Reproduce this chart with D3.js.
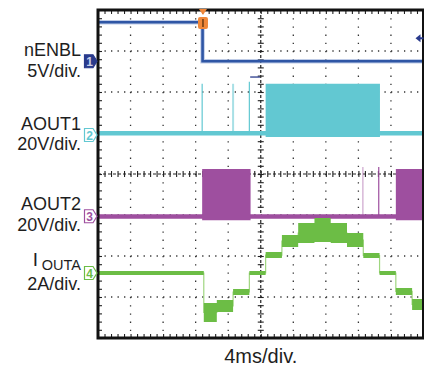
<!DOCTYPE html>
<html>
<head>
<meta charset="utf-8">
<script src="https://cdn.jsdelivr.net/npm/d3@7"></script>
<style>
  body { margin: 0; background: #fff; }
  svg { display: block; font-family: "Liberation Sans", Arial, sans-serif; }
</style>
</head>
<body>
<script>
// Scope screen
const w = 424;
const h = 369;
const pLeft = 98, pRight = 423.5, pTop = 10, pBottom = 338;
const xDivs = 10, yDivs = 8, minorPerDiv = 5;
const msPerDiv = 4;

// trigger
const triggerMs = 12.9;
const triggerLevelV = 2.8;

// CH1 nENBL (V)
const enblT = [0, 12.85, 40];
const enblV = [4.75, 0, 0];

// CH2 AOUT1 (V) - envelope of the PWM
const aout1T = [0, 20.6, 34.65, 40];
const aout1Hi = [1, 24, 1, 1];
const aout1Lo = [-1.2, -2, -1.2, -1.2];
const aout1SpikeT = [12.8, 16.6, 18.6];
const aout1SpikeV = [24, 24, 25];

// CH3 AOUT2 (V)
const aout2T = [0, 12.8, 18.75, 36.6, 40];
const aout2Hi = [1, 23, 1, 23, 23];
const aout2Lo = [-1.2, -2, -1.2, -2, -2];
const aout2SpikeT = [32.55, 34.5];
const aout2SpikeV = [24, 24];

// CH4 IOUTA (A) - step levels, min/max of the ripple
const ioutT  = [0, 13.0, 14.6, 16.6, 18.6, 20.6, 22.6, 24.6, 26.6, 28.6, 30.6, 32.6, 34.6, 36.6, 38.6, 40];
const ioutHi = [0.1, -1.46, -1.32, -0.78, 0.1, 1.02, 1.85, 2.44, 2.68, 2.44, 1.95, 0.98, 0.1, -0.73, -1.27, -1.27];
const ioutLo = [-0.1, -2.39, -1.9, -1.07, -0.1, 0.73, 1.27, 1.46, 1.51, 1.46, 1.27, 0.73, -0.1, -1.07, -1.8, -1.8];

// labels
const chNames = ["nENBL", "AOUT1", "AOUT2", "I"];
const chScales = ["5V/div.", "20V/div.", "20V/div.", "2A/div."];
const timeLabel = "4ms/div.";

const colBlue = "#2f56a5", colNavy = "#2a3b8c", colCyan = "#62c8d2",
      colPurple = "#9e4f9f", colGreen = "#6cbd45", colOrange = "#f0883a";

const svg = d3.select("body").append("svg").attr("width", w).attr("height", h);

// scales
const x = d3.scaleLinear().domain([0, xDivs * msPerDiv]).range([pLeft, pRight]);
const yDiv = d3.scaleLinear().domain([0, yDivs]).range([pBottom, pTop]);
function chScale(groundDiv, perDiv) {
  return d3.scaleLinear()
    .domain([-groundDiv * perDiv, (yDivs - groundDiv) * perDiv])
    .range([pBottom, pTop]);
}
const y1 = chScale(6.75, 5);
const y2 = chScale(5.0, 20);
const y3 = chScale(2.97, 20);
const y4 = chScale(1.585, 2);

// grid
const majorX = d3.range(1, xDivs).map(d => d * msPerDiv);
const majorY = d3.range(1, yDivs);
const minorX = d3.range(0, xDivs * minorPerDiv + 1).map(d => d * msPerDiv / minorPerDiv);
const minorY = d3.range(0, yDivs * minorPerDiv + 1).map(d => d / minorPerDiv);
const dx = x(msPerDiv / minorPerDiv) - x(0);
const dy = yDiv(0) - yDiv(1 / minorPerDiv);

const grid = svg.append("g");
grid.selectAll("line.v").data(majorX.filter(d => d !== 20)).enter().append("line")
  .attr("x1", d => x(d)).attr("x2", d => x(d))
  .attr("y1", pTop).attr("y2", pBottom)
  .attr("stroke", "#333").attr("stroke-width", 1.3)
  .attr("stroke-dasharray", `1.3,${dy - 1.3}`);
grid.selectAll("line.h").data(majorY.filter(d => d !== 4)).enter().append("line")
  .attr("x1", pLeft).attr("x2", pRight)
  .attr("y1", d => yDiv(d)).attr("y2", d => yDiv(d))
  .attr("stroke", "#333").attr("stroke-width", 1.3)
  .attr("stroke-dasharray", `1.3,${dx - 1.3}`);

// center lines
grid.append("line").attr("x1", x(20)).attr("x2", x(20)).attr("y1", pTop).attr("y2", pBottom)
  .attr("stroke", "#222").attr("stroke-width", 1.2).attr("stroke-dasharray", "3,2");
grid.append("line").attr("x1", pLeft).attr("x2", pRight).attr("y1", yDiv(4)).attr("y2", yDiv(4))
  .attr("stroke", "#222").attr("stroke-width", 1.2).attr("stroke-dasharray", "3,2");

function tickAxis(axis, transform) {
  const g = grid.append("g").attr("transform", transform).call(axis);
  g.select(".domain").remove();
  g.selectAll("line").attr("stroke", "#222").attr("stroke-width", 1.1);
  return g;
}
tickAxis(d3.axisRight(yDiv).tickValues(minorY).tickSize(6).tickFormat(""), `translate(${x(20) - 3},0)`);
tickAxis(d3.axisBottom(x).tickValues(minorX).tickSize(6).tickFormat(""), `translate(0,${yDiv(4) - 3})`);
tickAxis(d3.axisRight(yDiv).tickValues(minorY).tickSize(4).tickFormat(""), `translate(${pLeft},0)`);
tickAxis(d3.axisBottom(x).tickValues(minorX).tickSize(4).tickFormat(""), `translate(0,${pTop})`);
tickAxis(d3.axisTop(x).tickValues(minorX).tickSize(4).tickFormat(""), `translate(0,${pBottom})`);

// clip
svg.append("clipPath").attr("id", "plot").append("rect")
  .attr("x", pLeft).attr("y", pTop).attr("width", pRight - pLeft).attr("height", pBottom - pTop);
const traces = svg.append("g").attr("clip-path", "url(#plot)");

function band(t, hi, lo, ys) {
  return d3.area().curve(d3.curveStepAfter)
    .x((d, i) => x(t[i])).y0((d, i) => ys(lo[i])).y1((d, i) => ys(hi[i]))(t);
}

// CH2
traces.append("path").attr("d", band(aout1T, aout1Hi, aout1Lo, y2)).attr("fill", colCyan);
traces.selectAll("line.s2").data(aout1SpikeT).enter().append("line")
  .attr("x1", d => x(d)).attr("x2", d => x(d))
  .attr("y1", y2(0)).attr("y2", (d, i) => y2(aout1SpikeV[i]))
  .attr("stroke", colCyan).attr("stroke-width", (d, i) => i === 1 ? 2 : 1.2)
  .attr("opacity", (d, i) => i === 1 ? 0.55 : 1);

// CH3
traces.append("path").attr("d", band(aout2T, aout2Hi, aout2Lo, y3)).attr("fill", colPurple);
traces.selectAll("line.s3").data(aout2SpikeT).enter().append("line")
  .attr("x1", d => x(d)).attr("x2", d => x(d))
  .attr("y1", y3(0)).attr("y2", (d, i) => y3(aout2SpikeV[i]))
  .attr("stroke", colPurple).attr("stroke-width", 1.2)
  .attr("opacity", (d, i) => i === 0 ? 0.5 : 1);

// CH4
const ioutMid = ioutT.map((d, i) => (ioutHi[i] + ioutLo[i]) / 2);
traces.append("path")
  .attr("d", d3.line().curve(d3.curveStepAfter).x((d, i) => x(ioutT[i])).y((d, i) => y4(ioutMid[i]))(ioutT))
  .attr("fill", "none").attr("stroke", "#9fd67f").attr("stroke-width", 1.2);
traces.append("path").attr("d", band(ioutT, ioutHi, ioutLo, y4)).attr("fill", colGreen);

// CH1
const enblLine = d3.line().curve(d3.curveStepAfter).x((d, i) => x(enblT[i])).y((d, i) => y1(enblV[i]));
traces.append("path").attr("d", enblLine(enblT))
  .attr("fill", "none").attr("stroke", "#7f9ad0").attr("stroke-width", 4.5).attr("opacity", 0.5);
traces.append("path").attr("d", enblLine(enblT))
  .attr("fill", "none").attr("stroke", colBlue).attr("stroke-width", 2.6);

// frame
svg.append("rect").attr("x", pLeft).attr("y", pTop).attr("width", pRight - pLeft).attr("height", pBottom - pTop)
  .attr("fill", "none").attr("stroke", "#111").attr("stroke-width", 3);

// trigger marker
const tx = x(triggerMs);
svg.append("path").attr("d", `M${tx - 4},${pTop - 1}L${tx + 4},${pTop - 1}L${tx},${pTop + 5}Z`).attr("fill", colOrange);
svg.append("rect").attr("x", tx - 5).attr("y", pTop + 7).attr("width", 10).attr("height", 12).attr("rx", 2)
  .attr("fill", colOrange);
svg.append("line").attr("x1", tx).attr("x2", tx).attr("y1", pTop + 9).attr("y2", pTop + 17)
  .attr("stroke", "#6a3a10").attr("stroke-width", 1.5);

// trigger level arrow (right)
const ty = y1(triggerLevelV);
svg.append("path").attr("d", `M${pRight - 8},${ty}L${pRight - 3},${ty - 4}L${pRight - 3},${ty + 4}Z`).attr("fill", colNavy);
svg.append("line").attr("x1", pRight - 4).attr("x2", pRight).attr("y1", ty).attr("y2", ty)
  .attr("stroke", colNavy).attr("stroke-width", 2);

// small cursor on ch2
svg.append("line").attr("x1", x(18.7)).attr("x2", x(19.9)).attr("y1", y2(27.3)).attr("y2", y2(27.3))
  .attr("stroke", colNavy).attr("stroke-width", 1.3);

// channel ground markers
const markerData = [
  { n: "1", y: y1(0), c: colNavy, filled: true },
  { n: "2", y: y2(0) + 2, c: colCyan, filled: false },
  { n: "3", y: y3(0), c: colPurple, filled: false },
  { n: "4", y: y4(0), c: colGreen, filled: false },
];
const mk = svg.selectAll("g.mk").data(markerData).enter().append("g")
  .attr("transform", d => `translate(84,${d.y})`);
mk.append("path").attr("d", "M0.5,-6.5L9,-6.5L13,0L9,6.5L0.5,6.5Z")
  .attr("fill", d => d.filled ? d.c : "#fff").attr("stroke", d => d.c).attr("stroke-width", 1.2);
mk.append("text").attr("x", 5.5).attr("y", 4.5).attr("text-anchor", "middle")
  .attr("font-size", 12).attr("font-weight", "bold")
  .attr("fill", d => d.filled ? "#c8cde8" : d.c).text(d => d.n);

// channel labels
const labelY = [y1(0) - 5, y2(0) - 3, y3(0) - 6, y4(0) - 7];
const scaleY = [y1(0) + 16, y2(0) + 17, y3(0) + 15, y4(0) + 16.5];
const lab = svg.append("g").attr("fill", "#1e1e1e").attr("text-anchor", "end");
chNames.forEach((n, i) => {
  const t = lab.append("text").attr("x", 81).attr("y", labelY[i]).attr("font-size", 18);
  if (n === "I") {
    t.attr("x", 38).attr("font-size", 19).text("I");
    lab.append("text").attr("x", 81).attr("y", labelY[i] + 4).attr("font-size", 14.5).text("OUTA");
  } else {
    t.text(n);
  }
  lab.append("text").attr("x", 81).attr("y", scaleY[i]).attr("font-size", 18).text(chScales[i]);
});

svg.append("text").attr("x", x(20)).attr("y", 363).attr("text-anchor", "middle")
  .attr("font-size", 20).attr("fill", "#1e1e1e").text(timeLabel);
</script>
</body>
</html>
